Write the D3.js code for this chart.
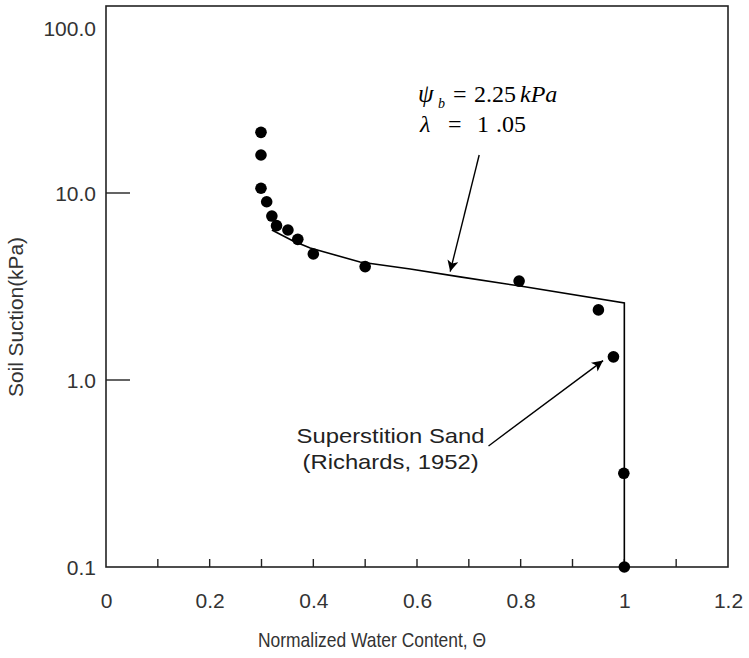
<!DOCTYPE html>
<html>
<head>
<meta charset="utf-8">
<script src="https://cdn.jsdelivr.net/npm/d3@7"></script>
<style>
  body { margin: 0; background: #fff; }
  svg { display: block; }
</style>
</head>
<body>
<svg id="svg" width="749" height="658"></svg>
<script>
// measured points (Richards, 1952)
const measTheta   = [0.299, 0.299, 0.299, 0.310, 0.320, 0.329, 0.351, 0.370, 0.400, 0.500, 0.797, 0.950, 0.979, 0.999, 1.0];
const measSuction = [21.1, 15.97, 10.6, 8.98, 7.53, 6.69, 6.34, 5.65, 4.72, 4.04, 3.38, 2.37, 1.33, 0.317, 0.1];

// fitted curve
const fitTheta   = [0.320, 0.361, 0.394, 0.442, 0.490, 0.587, 0.683, 0.799, 1.0, 1.0];
const fitSuction = [6.34, 5.54, 5.08, 4.66, 4.28, 3.92, 3.56, 3.18, 2.58, 0.1];

const xTicks = [0, 0.2, 0.4, 0.6, 0.8, 1.0, 1.2];
const xMinor = [0.1, 0.2, 0.3, 0.4, 0.5, 0.6, 0.7, 0.8, 0.9, 1.0, 1.1];
const yTicks = [0.1, 1, 10, 100];
const yTickLabels = ["0.1", "1.0", "10.0", "100.0"];

const svg = d3.select("#svg");
const pLeft = 106, pRight = 728, pTop = 6, pBottom = 567;

const x = d3.scaleLinear().domain([0, 1.2]).range([pLeft, pRight]);
const y = d3.scaleLog().domain([0.1, 100]).range([pBottom, pTop]);

const sans = "'Liberation Sans', Arial, sans-serif";
const serif = "'Liberation Serif', 'Times New Roman', serif";
const ink = "#222";

// frame
svg.append("rect")
    .attr("x", pLeft).attr("y", pTop)
    .attr("width", pRight - pLeft).attr("height", pBottom - pTop)
    .attr("fill", "none").attr("stroke", ink).attr("stroke-width", 1.6);

// x axis: inward minor ticks + labels
const xAxis = d3.axisBottom(x).tickValues(xTicks).tickSize(0).tickPadding(26)
    .tickFormat(d => d === 0 ? "0" : (d === 1 ? "1" : d3.format(".1f")(d)));
const gx = svg.append("g").attr("transform", `translate(0,${pBottom})`).call(xAxis);
gx.select(".domain").remove();
gx.selectAll("text").attr("font-family", sans).attr("font-size", 21).attr("fill", "#333");

svg.append("g").selectAll("line")
    .data(xMinor).enter().append("line")
    .attr("x1", d => x(d)).attr("x2", d => x(d))
    .attr("y1", pBottom).attr("y2", pBottom - 8)
    .attr("stroke", ink).attr("stroke-width", 1.4);

// y axis: long inward ticks at decades + labels
const yAxis = d3.axisLeft(y).tickValues(yTicks).tickSize(0).tickPadding(10)
    .tickFormat((d, i) => yTickLabels[i]);
const gy = svg.append("g").attr("transform", `translate(${pLeft},0)`).call(yAxis);
gy.select(".domain").remove();
gy.selectAll("text").attr("font-family", sans).attr("font-size", 21).attr("fill", "#333")
    .attr("dy", d => d === 100 ? "1.4em" : "0.35em");

svg.append("g").selectAll("line")
    .data([1, 10]).enter().append("line")
    .attr("x1", pLeft).attr("x2", pLeft + 24)
    .attr("y1", d => y(d)).attr("y2", d => y(d))
    .attr("stroke", ink).attr("stroke-width", 1.4);

// axis titles
svg.append("text")
    .attr("x", 372).attr("y", 647)
    .attr("text-anchor", "middle")
    .attr("font-family", sans).attr("font-size", 21).attr("fill", "#333")
    .attr("textLength", 228).attr("lengthAdjust", "spacingAndGlyphs")
    .text("Normalized Water Content, Θ");

svg.append("text")
    .attr("transform", "translate(23,317) rotate(-90)")
    .attr("text-anchor", "middle")
    .attr("font-family", sans).attr("font-size", 21).attr("fill", "#333")
    .attr("textLength", 160).attr("lengthAdjust", "spacingAndGlyphs")
    .text("Soil Suction(kPa)");

// fitted curve
const line = d3.line().x(d => x(d[0])).y(d => y(d[1]));
svg.append("path")
    .datum(fitTheta.map((t, i) => [t, fitSuction[i]]))
    .attr("d", line)
    .attr("fill", "none").attr("stroke", "#000").attr("stroke-width", 1.6);

// measured points
svg.append("g").selectAll("circle")
    .data(measTheta.map((t, i) => [t, measSuction[i]]))
    .enter().append("circle")
    .attr("cx", d => x(d[0])).attr("cy", d => y(d[1]))
    .attr("r", 5.8).attr("fill", "#000");

// arrows
svg.append("defs").append("marker")
    .attr("id", "head").attr("viewBox", "0 0 10 10")
    .attr("refX", 10).attr("refY", 5)
    .attr("markerWidth", 14).attr("markerHeight", 11)
    .attr("markerUnits", "userSpaceOnUse")
    .attr("orient", "auto")
    .append("path").attr("d", "M0,0 L10,5 L0,10 L2.5,5 Z").attr("fill", "#000");

const arrows = [
    [[0.720, 15.96], [0.664, 3.80]],
    [[0.738, 0.444], [0.959, 1.27]]
];
svg.append("g").selectAll("line")
    .data(arrows).enter().append("line")
    .attr("x1", d => x(d[0][0])).attr("y1", d => y(d[0][1]))
    .attr("x2", d => x(d[1][0])).attr("y2", d => y(d[1][1]))
    .attr("stroke", "#000").attr("stroke-width", 1.4)
    .attr("marker-end", "url(#head)");

// equation annotation (pieces placed relative to the anchor point)
const ex = x(0.602);
const eqParts = [
    { t: "ψ", dx: 0, dy: 0, it: true, fs: 25 },
    { t: "b", dx: 20, dy: 6, it: true, fs: 14 },
    { t: "=", dx: 35, dy: 0, it: false, fs: 24 },
    { t: "2.25", dx: 56, dy: 0, it: false, fs: 24 },
    { t: "kPa", dx: 102, dy: 0, it: true, fs: 24 },
    { t: "λ", dx: 2, dy: 30, it: true, fs: 24 },
    { t: "=", dx: 30, dy: 30, it: false, fs: 24 },
    { t: "1", dx: 59, dy: 30, it: false, fs: 24 },
    { t: ".05", dx: 78, dy: 30, it: false, fs: 24 }
];
svg.append("g").selectAll("text")
    .data(eqParts).enter().append("text")
    .attr("x", d => ex + d.dx).attr("y", d => y(30.8) + d.dy)
    .attr("font-family", serif).attr("font-size", d => d.fs)
    .attr("font-style", d => d.it ? "italic" : "normal")
    .attr("fill", "#000")
    .text(d => d.t);

// data source label
const lbl = svg.append("text")
    .attr("font-family", sans).attr("font-size", 21).attr("fill", ink)
    .attr("text-anchor", "middle");
lbl.append("tspan").attr("x", x(0.549)).attr("y", y(0.459))
    .attr("textLength", 188).attr("lengthAdjust", "spacingAndGlyphs")
    .text("Superstition Sand");
lbl.append("tspan").attr("x", x(0.549)).attr("y", y(0.334))
    .attr("textLength", 176).attr("lengthAdjust", "spacingAndGlyphs")
    .text("(Richards, 1952)");
</script>
</body>
</html>
